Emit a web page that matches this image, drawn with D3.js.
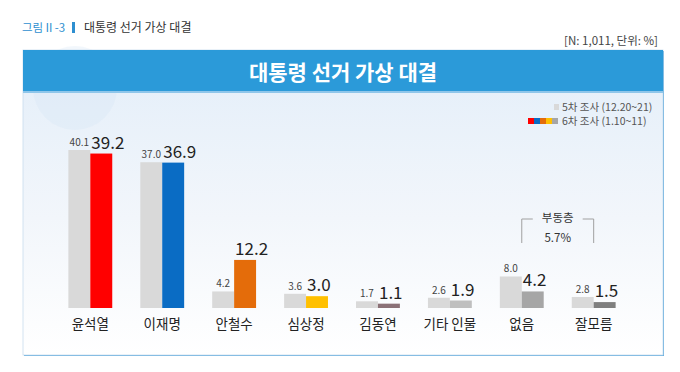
<!DOCTYPE html>
<html>
<head>
<meta charset="utf-8">
<script src="https://cdn.jsdelivr.net/npm/d3@7"></script>
<style>
  body { margin: 0; background: #fff; }
  svg { display: block; font-family: "Noto Sans CJK KR", "Noto Sans", sans-serif; }
</style>
</head>
<body>
<svg id="chart"></svg>
<script>
// data
var categories = ["윤석열", "이재명", "안철수", "심상정", "김동연", "기타 인물", "없음", "잘모름"]
var wave5 = [40.1, 37.0, 4.2, 3.6, 1.7, 2.6, 8.0, 2.8]
var wave6 = [39.2, 36.9, 12.2, 3.0, 1.1, 1.9, 4.2, 1.5]
var wave6Colors = ["#ff0000", "#0a6cc4", "#e46c0a", "#ffc000", "#8b7177", "#bfbfbf", "#a6a6a6", "#7f7f7f"]
var legendLabels = ["5차 조사 (12.20~21)", "6차 조사 (1.10~11)"]
var floatingLabel = ["부동층", "5.7%"]

var width = 680, height = 372

var svg = d3.select("#chart")
    .attr("width", width)
    .attr("height", height)

// gradient for the panel body
var defs = svg.append("defs")
var grad = defs.append("linearGradient")
    .attr("id", "bodyGrad")
    .attr("x1", 0).attr("y1", 0).attr("x2", 0).attr("y2", 1)
grad.append("stop").attr("offset", "0%").attr("stop-color", "#e3eef9")
grad.append("stop").attr("offset", "55%").attr("stop-color", "#f2f6fb")
grad.append("stop").attr("offset", "100%").attr("stop-color", "#ffffff")

// page caption
svg.append("text")
    .attr("x", 22)
    .attr("y", 32)
    .attr("fill", "#2e8fd0")
    .style("font-size", "11.5px")
    .text("그림Ⅱ-3")
svg.append("rect")
    .attr("x", 72).attr("y", 22).attr("width", 3).attr("height", 11)
    .attr("fill", "#2e8fd0")
svg.append("text")
    .attr("x", 84).attr("y", 32)
    .attr("fill", "#333")
    .style("font-size", "12px")
    .text("대통령 선거 가상 대결")

svg.append("text")
    .attr("x", 658).attr("y", 45)
    .attr("text-anchor", "end")
    .attr("fill", "#444")
    .style("font-size", "11.5px")
    .text("[N: 1,011, 단위: %]")

// panel
var panel = {left: 23, top: 50, right: 663, bottom: 355}
svg.append("rect")
    .attr("x", panel.left + 1).attr("y", panel.top + 1)
    .attr("width", panel.right - panel.left)
    .attr("height", panel.bottom - panel.top)
    .attr("fill", "#5aa9dc")
svg.append("rect")
    .attr("x", panel.left).attr("y", panel.top)
    .attr("width", panel.right - panel.left)
    .attr("height", panel.bottom - panel.top)
    .attr("fill", "url(#bodyGrad)")
    .attr("stroke", "#c9dcee")
    .attr("stroke-width", 0.8)

// faint decorative circle top-left
svg.append("circle").attr("cx", 75).attr("cy", 88).attr("r", 42)
    .attr("fill", "#d3e4f4").attr("opacity", 0.3)

svg.append("rect")
    .attr("x", panel.left).attr("y", panel.top)
    .attr("width", panel.right - panel.left)
    .attr("height", 41)
    .attr("fill", "#2b9ad9")
svg.append("rect")
    .attr("x", panel.left).attr("y", panel.top + 41)
    .attr("width", panel.right - panel.left)
    .attr("height", 2)
    .attr("fill", "#8fc6ea")
svg.append("text")
    .attr("x", (panel.left + panel.right) / 2)
    .attr("y", 80)
    .attr("text-anchor", "middle")
    .attr("fill", "#fff")
    .style("font-size", "21px")
    .style("font-weight", "bold")
    .text("대통령 선거 가상 대결")

// scales
var x = d3.scaleBand()
    .domain(categories)
    .range([54, 630])
    .paddingInner(0.39)
    .paddingOuter(0.2)

var y = d3.scaleLinear()
    .domain([0, 40.1])
    .range([308, 150])

var bw = x.bandwidth() / 2

var g = svg.append("g")

var groups = g.selectAll("g.cat")
    .data(categories)
    .enter()
    .append("g")
    .attr("class", "cat")
    .attr("transform", function (d) { return "translate(" + x(d) + ",0)" })

groups.append("rect")
    .attr("x", 0)
    .attr("y", function (d, i) { return y(wave5[i]) })
    .attr("width", bw)
    .attr("height", function (d, i) { return y(0) - y(wave5[i]) })
    .attr("fill", "#d9d9d9")

groups.append("rect")
    .attr("x", bw)
    .attr("y", function (d, i) { return y(wave6[i]) })
    .attr("width", bw)
    .attr("height", function (d, i) { return y(0) - y(wave6[i]) })
    .attr("fill", function (d, i) { return wave6Colors[i] })

// value labels
groups.append("text")
    .attr("x", bw / 2)
    .attr("y", function (d, i) { return y(wave5[i]) - 4 })
    .attr("text-anchor", "middle")
    .attr("fill", "#444")
    .style("font-size", "10px")
    .text(function (d, i) { return wave5[i].toFixed(1) })

groups.append("text")
    .attr("x", bw + 1)
    .attr("y", function (d, i) { return y(wave6[i]) - 5 })
    .attr("text-anchor", "start")
    .attr("fill", "#222")
    .style("font-size", "17px")
    .text(function (d, i) { return wave6[i].toFixed(1) })

// category axis labels
var xAxis = svg.append("g")
    .attr("transform", "translate(0,308)")
    .call(d3.axisBottom(x).tickSize(0).tickPadding(11))
xAxis.select(".domain").remove()
xAxis.selectAll("text")
    .attr("fill", "#222")
    .style("font-size", "13.5px")
    .style("font-family", "\"Noto Sans CJK KR\", sans-serif")

// legend
var legend = svg.append("g").attr("transform", "translate(562,0)")
legend.append("rect")
    .attr("x", -8).attr("y", 104).attr("width", 5).attr("height", 6)
    .attr("fill", "#d9d9d9")
legend.selectAll("rect.sw6")
    .data(wave6Colors.slice(0, 4).concat(["#a6a6a6"]))
    .enter()
    .append("rect")
    .attr("class", "sw6")
    .attr("x", function (d, i) { return -34 + i * 6 })
    .attr("y", 118).attr("width", 6).attr("height", 6)
    .attr("fill", function (d) { return d })
legend.selectAll("text")
    .data(legendLabels)
    .enter()
    .append("text")
    .attr("x", 0)
    .attr("y", function (d, i) { return 111 + i * 14 })
    .attr("fill", "#555")
    .style("font-size", "10.5px")
    .text(function (d) { return d })

// floating voters bracket
var bx1 = x("없음") + bw, bx2 = x("잘모름") + bw
var mid = (bx1 + bx2) / 2
var bracket = svg.append("g")
bracket.append("path")
    .attr("d", "M" + (bx1 + 11) + ",219 H" + bx1 + " V243")
    .attr("fill", "none").attr("stroke", "#a0a0a0").attr("stroke-width", 1)
bracket.append("path")
    .attr("d", "M" + (bx2 - 11) + ",219 H" + bx2 + " V243")
    .attr("fill", "none").attr("stroke", "#a0a0a0").attr("stroke-width", 1)
bracket.selectAll("text")
    .data(floatingLabel)
    .enter()
    .append("text")
    .attr("x", mid)
    .attr("y", function (d, i) { return 222 + i * 20 })
    .attr("text-anchor", "middle")
    .attr("fill", "#333")
    .style("font-size", "11.5px")
    .text(function (d) { return d })
</script>
</body>
</html>
